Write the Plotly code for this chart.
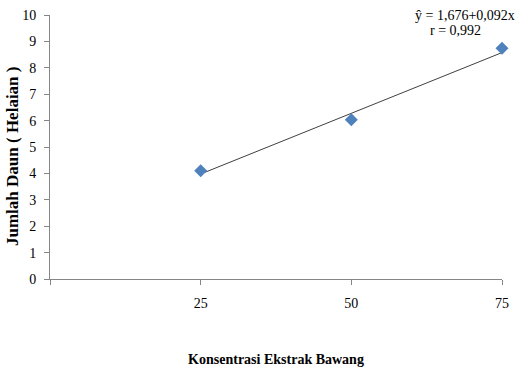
import plotly.graph_objects as go

konsentrasi = [25, 50, 75]
jumlah_daun = [4.1, 6.03, 8.74]
intercept = 1.676
slope = 0.092
r_value = 0.992

x_ticks = [0, 25, 50, 75]
x_ticktext = ["", "25", "50", "75"]
y_ticks = list(range(0, 11))

trend_x = [konsentrasi[0], konsentrasi[-1]]
trend_y = [intercept + slope * x for x in trend_x]

font_family = "Liberation Serif, Times New Roman, serif"
W, H = 517, 367
plot_left, plot_right, plot_top, plot_bottom = 50, 502, 15, 279


def to_paper(px, py):
    return ((px - plot_left) / (plot_right - plot_left),
            (plot_bottom - py) / (plot_bottom - plot_top))


fig = go.Figure()
fig.add_trace(go.Scatter(
    x=trend_x, y=trend_y, mode="lines",
    line=dict(color="#404040", width=1), showlegend=False, hoverinfo="skip",
    cliponaxis=False,
))
fig.add_trace(go.Scatter(
    x=konsentrasi, y=jumlah_daun, mode="markers",
    marker=dict(symbol="diamond", size=10, color="#4F81BD",
                line=dict(width=0)),
    showlegend=False, cliponaxis=False,
))

eq_text = "ŷ = " + f"{intercept:.3f}".replace(".", ",") + "+" + f"{slope:.3f}".replace(".", ",") + "x"
r_text = "r = " + f"{r_value:.3f}".replace(".", ",")

ax, ay = to_paper(465, 15)
fig.add_annotation(
    x=ax, y=ay, xref="paper", yref="paper", text=eq_text,
    showarrow=False, xanchor="center", yanchor="middle",
    font=dict(family=font_family, size=14, color="#000000"),
)
ax, ay = to_paper(455, 31)
fig.add_annotation(
    x=ax, y=ay, xref="paper", yref="paper", text=r_text,
    showarrow=False, xanchor="center", yanchor="middle",
    font=dict(family=font_family, size=14, color="#000000"),
)
ax, ay = to_paper(12, 157)
fig.add_annotation(
    x=ax, y=ay, xref="paper", yref="paper", text="<b>Jumlah Daun ( Helaian )</b>",
    showarrow=False, xanchor="center", yanchor="middle", textangle=-90,
    font=dict(family=font_family, size=17, color="#000000"),
)

fig.update_layout(
    width=W, height=H,
    margin=dict(l=plot_left, r=W - plot_right, t=plot_top, b=H - plot_bottom),
    paper_bgcolor="white", plot_bgcolor="white",
    font=dict(family=font_family, size=14, color="#000000"),
    xaxis=dict(
        range=[0, 75], tickvals=x_ticks, ticktext=x_ticktext, automargin=False,
        showgrid=False, zeroline=False, showline=True, linecolor="#868686", linewidth=1,
        ticks="outside", ticklen=5, tickcolor="#868686",
        ticklabelstandoff=6,
        title=dict(text="<b>Konsentrasi Ekstrak Bawang</b>", standoff=44,
                   font=dict(family=font_family, size=14)),
    ),
    yaxis=dict(
        range=[0, 10], tickvals=y_ticks, automargin=False,
        showgrid=False, zeroline=False, showline=True, linecolor="#868686", linewidth=1,
        ticks="outside", ticklen=5, tickcolor="#868686",
        ticklabelstandoff=5,
    ),
)

fig.write_html("out.html")
